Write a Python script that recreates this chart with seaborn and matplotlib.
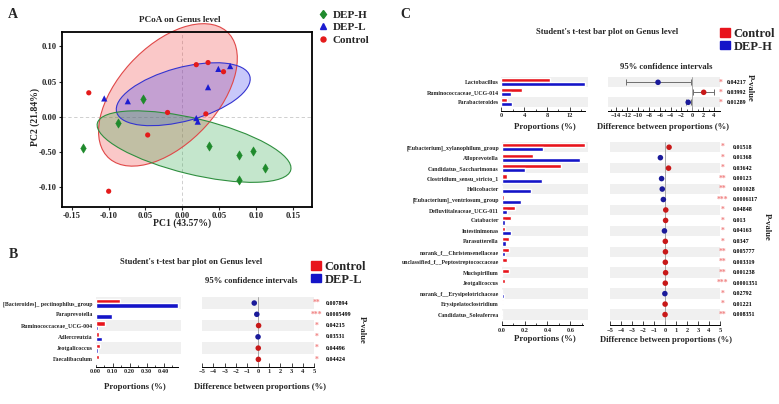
import numpy as np
import pandas as pd
import matplotlib
matplotlib.use('Agg')
import matplotlib.pyplot as plt
import matplotlib.transforms as mtransforms
from matplotlib.patches import Ellipse, Patch
from matplotlib.lines import Line2D
import seaborn as sns

# ---------------- data: panel A (PCoA) ----------------
deph_pc1 = [-0.053, -0.087, -0.135, 0.036, 0.077, 0.096, 0.113, 0.077]
deph_pc2 = [0.025, -0.009, -0.045, -0.042, -0.054, -0.049, -0.073, -0.090]
depl_pc1 = [-0.106, -0.074, 0.035, 0.049, 0.065, 0.019, 0.021]
depl_pc2 = [0.026, 0.022, 0.042, 0.068, 0.072, -0.002, -0.007]
ctrl_pc1 = [-0.127, 0.019, 0.035, 0.056, -0.020, 0.032, -0.047, -0.100]
ctrl_pc2 = [0.034, 0.074, 0.077, 0.064, 0.006, 0.004, -0.026, -0.106]
# confidence ellipses: centre x, centre y, width, height, angle
ell_deph = [0.016, -0.0425, 0.271, 0.079, -14.3]
ell_depl = [0.0013, 0.032, 0.188, 0.076, 16.0]
ell_ctrl = [-0.0195, 0.031, 0.241, 0.136, 49.0]
pc1_ticks = [-0.15, -0.10, -0.05, 0.00, 0.05, 0.10, 0.15]
pc1_ticklabels = ['-0.15', '-0.10', '0.05', '0.00', '0.05', '0.10', '0.15']
pc2_ticks = [0.10, 0.05, 0.00, -0.05, -0.10]
pc2_ticklabels = ['0.10', '0.05', '0.00', '-0.50', '-0.10']

# ---------------- data: panel B (Control vs DEP-L) ----------------
b_genus = ['[Bacteroides]_ pectinophilus_group', 'Paraprevotella', 'Ruminococcaceae_UCG-004',
           'Adlercreutzia', 'Jeotgalicoccus', 'Faecalibaculum']
b_control = [0.142, 0.0, 0.055, 0.022, 0.026, 0.022]
b_depl = [0.487, 0.095, 0.016, 0.035, 0.014, 0.006]
b_diff = [-0.35, -0.12, 0.04, -0.01, 0.01, 0.02]
b_pvalue = ['0.007894', '0.0005499', '0.04215', '0.03531', '0.04496', '0.04424']

# ---------------- data: panel C top (Control vs DEP-H) ----------------
c1_genus = ['Lactobacillus', 'Ruminococcaceae_UCG-014', 'Parabacteroides']
c1_control = [8.5, 3.7, 1.05]
c1_deph = [14.6, 1.65, 1.8]
c1_diff = [-6.3, 2.1, -0.75]
c1_ci_low = [-12.2, 0.2, -1.2]
c1_ci_high = [-0.3, 4.0, -0.3]
c1_pvalue = ['0.04217', '0.03992', '0.01289']

# ---------------- data: panel C bottom ----------------
c2_genus = ['[Eubacterium]_xylanophilum_group', 'Alloprevotella', 'Candidatus_Saccharimonas',
            'Clostridium_sensu_stricto_1', 'Helicobacter', '[Eubacterium]_ventriosum_group',
            'Defluviitaleaceae_UCG-011', 'Catabacter', 'Intestinimonas', 'Parasutterella',
            'norank_f__Christensenellaceae', 'unclassified_f__Peptostreptococcaceae',
            'Mucispirillum', 'Jeotgalicoccus', 'norank_f__Erysipelotrichaceae',
            'Erysipelatoclostridium', 'Candidatus_Soleaferrea']
c2_control = [0.725, 0.27, 0.52, 0.043, 0.0, 0.02, 0.116, 0.084, 0.029, 0.067,
              0.067, 0.046, 0.061, 0.029, 0.005, 0.012, 0.006]
c2_deph = [0.357, 0.687, 0.20, 0.354, 0.252, 0.165, 0.049, 0.029, 0.078, 0.035,
           0.029, 0.015, 0.006, 0.003, 0.017, 0.001, 0.001]
c2_diff = [0.37, -0.42, 0.32, -0.31, -0.25, -0.15, 0.07, 0.055, -0.05, 0.03,
           0.04, 0.03, 0.055, 0.026, -0.012, 0.011, 0.005]
c2_pvalue = ['0.01518', '0.01368', '0.03642', '0.00123', '0.001028', '0.0006117', '0.04848',
             '0.013', '0.04163', '0.0347', '0.005777', '0.003319', '0.001238', '0.0001351',
             '0.02792', '0.01221', '0.008351']

# ---------------- style ----------------
sns.set_style('white')
plt.rcParams['font.family'] = ['Liberation Serif', 'DejaVu Serif']
plt.rcParams['font.weight'] = 'bold'
plt.rcParams['axes.labelweight'] = 'bold'

W, H = 779, 404
BAR_RED = '#e8141c'
BAR_BLUE = '#1414c8'
DOT_RED = '#c81818'
DOT_BLUE = '#1a1a9a'
BAND = '#f0f0f0'
STAR = '#f08080'

fig = plt.figure(figsize=(W / 100, H / 100), dpi=100)


def fx(px):
    return px / W


def fy(py):
    return 1 - py / H


def add_ax(left, top, right, bottom):
    return fig.add_axes([fx(left), fy(bottom), (right - left) / W, (bottom - top) / H])


def stars(p):
    p = float(p)
    if p < 0.001:
        return '***'
    if p < 0.01:
        return '**'
    return '*'


def bar_panel(ax, genus, ctrl, dep, dep_name, xmax, ybottom, xticks, xticklabels, minor, spine_end):
    n = len(genus)
    for i in range(0, n, 2):
        ax.axhspan(i - 0.5, i + 0.5, color=BAND, lw=0, zorder=0)
    df = pd.DataFrame({'genus': genus * 2, 'prop': ctrl + dep,
                       'group': ['Control'] * n + [dep_name] * n})
    sns.barplot(data=df, x='prop', y='genus', hue='group', orient='h',
                palette=[BAR_RED, BAR_BLUE], saturation=1, width=0.8,
                errorbar=None, legend=False, ax=ax, zorder=2)
    ax.set_xlim(0, xmax)
    ax.set_ylim(ybottom, -0.5)
    ax.set_xlabel('')
    ax.set_ylabel('')
    for s in ['left', 'top', 'right']:
        ax.spines[s].set_visible(False)
    ax.spines['bottom'].set_linewidth(0.7)
    ax.spines['bottom'].set_color('black')
    ax.spines['bottom'].set_bounds(0, spine_end)
    ax.set_xticks(xticks)
    ax.set_xticklabels(xticklabels)
    ax.set_xticks(minor, minor=True)
    ax.tick_params(axis='x', which='major', direction='in', length=3, width=0.6,
                   labelsize=4.6, pad=2, bottom=True)
    ax.tick_params(axis='x', which='minor', direction='in', length=1.5, width=0.6, bottom=True)
    ax.tick_params(axis='y', length=0, labelsize=4.2, pad=2)


def ci_panel(ax, diff, ybottom, xlim, xticks, minor, lo=None, hi=None):
    n = len(diff)
    y = np.arange(n)
    for i in range(0, n, 2):
        ax.axhspan(i - 0.5, i + 0.5, color=BAND, lw=0, zorder=0)
    ax.axvline(0, color='#9a9a9a', lw=0.6, zorder=1)
    if lo is not None:
        d = np.array(diff)
        ax.errorbar(d, y, xerr=[d - np.array(lo), np.array(hi) - d], fmt='none',
                    ecolor='#6e6e6e', elinewidth=0.7, capsize=2.2, capthick=0.7, zorder=2)
    colors = [DOT_RED if v > 0 else DOT_BLUE for v in diff]
    ax.scatter(diff, y, c=colors, s=16, edgecolors='none', zorder=3)
    ax.set_xlim(*xlim)
    ax.set_ylim(ybottom, -0.5)
    for s in ['left', 'top', 'right']:
        ax.spines[s].set_visible(False)
    ax.spines['bottom'].set_linewidth(0.7)
    ax.spines['bottom'].set_color('black')
    ax.set_yticks([])
    ax.set_xticks(xticks)
    ax.set_xticks(minor, minor=True)
    ax.tick_params(axis='x', which='major', direction='in', length=3, width=0.6,
                   labelsize=4.6, pad=2, bottom=True)
    ax.tick_params(axis='x', which='minor', direction='in', length=1.5, width=0.6, bottom=True)


def pvalue_column(ax, pvals, star_px, val_px, fs=4.3):
    tr = mtransforms.blended_transform_factory(fig.transFigure, ax.transData)
    for i, p in enumerate(pvals):
        ax.text(fx(star_px), i, stars(p), transform=tr, ha='center', va='center',
                color=STAR, fontsize=5.5)
        ax.text(fx(val_px), i, p, transform=tr, ha='left', va='center',
                color='black', fontsize=fs)


def square_legend(x, y, dep_name):
    handles = [Patch(color=BAR_RED), Patch(color=BAR_BLUE)]
    fig.legend(handles, ['Control', dep_name], loc='upper left',
               bbox_to_anchor=(fx(x), fy(y)), frameon=False, fontsize=9,
               handlelength=0.8, handleheight=0.65, handletextpad=0.3,
               labelspacing=0.05, borderpad=0, borderaxespad=0)


# ================= panel A =================
axA = add_ax(62, 31.7, 311.7, 206.7)
axA.axvline(0, color='#c8c8c8', lw=0.6, ls=(0, (4, 3)), zorder=0)
axA.axhline(0, color='#c8c8c8', lw=0.6, ls=(0, (4, 3)), zorder=0)
for e, fc, ec in [(ell_ctrl, '#ee3a3a', '#e04848'),
                  (ell_depl, '#3a3aee', '#3434d0'),
                  (ell_deph, '#2ea84a', '#2f8f3f')]:
    patch = Ellipse((e[0], e[1]), e[2], e[3], angle=e[4], facecolor=fc, alpha=0.28,
                    edgecolor='none', clip_on=False, zorder=1)
    axA.add_patch(patch)
    edge = Ellipse((e[0], e[1]), e[2], e[3], angle=e[4], facecolor='none',
                   edgecolor=ec, lw=0.8, clip_on=False, zorder=2)
    axA.add_patch(edge)

sns.scatterplot(x=deph_pc1, y=deph_pc2, marker='d', color='#1f8a2c', s=22,
                edgecolor='#1f8a2c', linewidth=0.4, ax=axA, zorder=3)
sns.scatterplot(x=depl_pc1, y=depl_pc2, marker='^', color='#1c1cd0', s=20,
                edgecolor='none', ax=axA, zorder=3)
sns.scatterplot(x=ctrl_pc1, y=ctrl_pc2, marker='o', color='#e41a1a', s=14,
                edgecolor='none', ax=axA, zorder=3)
axA.set_xlim(-0.1634, 0.1758)
axA.set_ylim(-0.128, 0.1209)
axA.set_xticks(pc1_ticks)
axA.set_xticklabels(pc1_ticklabels)
axA.set_yticks(pc2_ticks)
axA.set_yticklabels(pc2_ticklabels)
axA.tick_params(axis='both', labelsize=6.2, length=2, width=0.8, pad=1.5,
                direction='out', bottom=True, left=True)
for s in axA.spines.values():
    s.set_linewidth(1.3)
    s.set_color('black')
fig.text(fx(182), fy(223), 'PC1 (43.57%)', ha='center', va='center', fontsize=7)
fig.text(fx(35), fy(117), 'PC2 (21.84%)', ha='center', va='center', fontsize=7, rotation=90)
fig.text(fx(180), fy(20), 'PCoA on Genus level', ha='center', va='center', fontsize=6.6)

legA = [Line2D([], [], marker='d', color='#1f8a2c', ls='none', ms=4.5),
        Line2D([], [], marker='^', color='#1c1cd0', ls='none', ms=4.2),
        Line2D([], [], marker='o', color='#e41a1a', ls='none', ms=3.6)]
fig.legend(legA, ['DEP-H', 'DEP-L', 'Control'], loc='upper left',
           bbox_to_anchor=(fx(319), fy(10)), frameon=False, fontsize=8,
           handlelength=0.8, handletextpad=0.4, labelspacing=0.25,
           borderpad=0, borderaxespad=0)

# ================= panel B =================
b_bottom = 5.65
axB1 = add_ax(95.7, 297.4, 180.7, 366.7)
bar_panel(axB1, b_genus, b_control, b_depl, 'DEP-L', 0.5, b_bottom,
          [0, 0.1, 0.2, 0.3, 0.4], ['0.00', '0.10', '0.20', '0.30', '0.40'],
          [0.05, 0.15, 0.25, 0.35, 0.45], 0.485)
axB2 = add_ax(202.3, 297.4, 314, 366.7)
ci_panel(axB2, b_diff, b_bottom, (-5, 5), list(range(-5, 6)), [])
pvalue_column(axB2, b_pvalue, 316.7, 326)
fig.text(fx(362), fy(330), 'P-value', ha='center', va='center', fontsize=6.2, rotation=-90)
fig.text(fx(190.7), fy(261.7), "Student's t-test bar plot on Genus level",
         ha='center', va='center', fontsize=6.2)
fig.text(fx(251.7), fy(280.7), '95% confidence intervals', ha='center', va='center', fontsize=6.2)
fig.text(fx(135), fy(387), 'Proportions (%)', ha='center', va='center', fontsize=6.3)
fig.text(fx(260), fy(387), 'Difference between proportions (%)', ha='center', va='center',
         fontsize=6.2)
square_legend(311, 261, 'DEP-L')

# ================= panel C top =================
c1_bottom = 2.84
axC1 = add_ax(501.3, 77.3, 588, 110.7)
bar_panel(axC1, c1_genus, c1_control, c1_deph, 'DEP-H', 15.2, c1_bottom,
          [0, 4, 8, 12], ['0', '4', '8', '12'], [2, 6, 10, 14], 14.6)
axC2 = add_ax(608, 77.3, 720, 110.7)
ci_panel(axC2, c1_diff, c1_bottom, (-15.5, 5.1), list(range(-14, 5, 2)),
         list(range(-15, 5, 2)), lo=c1_ci_low, hi=c1_ci_high)
pvalue_column(axC2, c1_pvalue, 721, 727)
fig.text(fx(750), fy(88), 'P-value', ha='center', va='center', fontsize=6.2, rotation=-90)
fig.text(fx(606.7), fy(31.7), "Student's t-test bar plot on Genus level",
         ha='center', va='center', fontsize=6.2)
fig.text(fx(666), fy(67), '95% confidence intervals', ha='center', va='center', fontsize=6.2)
fig.text(fx(545), fy(127), 'Proportions (%)', ha='center', va='center', fontsize=6.3)
fig.text(fx(663), fy(127), 'Difference between proportions (%)', ha='center', va='center',
         fontsize=6.2)
square_legend(720, 28, 'DEP-H')

# ================= panel C bottom =================
c2_bottom = 17.0
axC3 = add_ax(501.7, 142, 588, 325)
bar_panel(axC3, c2_genus, c2_control, c2_deph, 'DEP-H', 0.755, c2_bottom,
          [0, 0.2, 0.4, 0.6], ['0.0', '0.2', '0.4', '0.6'], [0.1, 0.3, 0.5, 0.7], 0.715)
axC4 = add_ax(610, 142, 720, 325)
ci_panel(axC4, c2_diff, c2_bottom, (-5, 5), list(range(-5, 6)), [])
pvalue_column(axC4, c2_pvalue, 722.7, 733)
fig.text(fx(766.7), fy(226.7), 'P-value', ha='center', va='center', fontsize=6.2, rotation=-90)
fig.text(fx(545), fy(339), 'Proportions (%)', ha='center', va='center', fontsize=6.3)
fig.text(fx(666), fy(340), 'Difference between proportions (%)', ha='center', va='center',
         fontsize=6.2)

# panel letters
fig.text(fx(13), fy(14), 'A', ha='center', va='center', fontsize=10)
fig.text(fx(13), fy(255), 'B', ha='center', va='center', fontsize=10)
fig.text(fx(405), fy(15), 'C', ha='center', va='center', fontsize=10)

fig.savefig('out.png', dpi=100)
